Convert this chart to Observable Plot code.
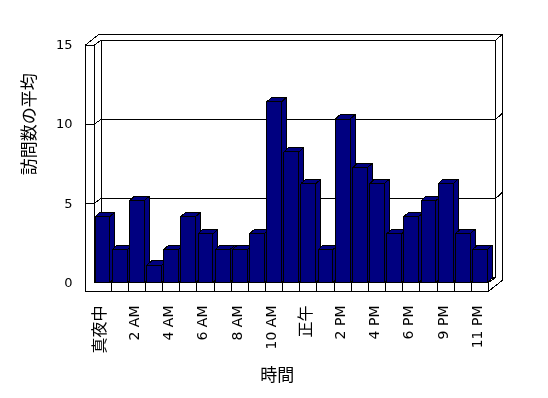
<!DOCTYPE html>
<html>
<head>
<meta charset="utf-8">
<script src="https://cdn.jsdelivr.net/npm/d3@7"></script>
<script src="https://cdn.jsdelivr.net/npm/@observablehq/plot@0.6"></script>
<style>
  body { margin: 0; background: #ffffff; }
  #chart svg { display: block; will-change: transform; }
  #chart svg path, #chart svg line, #chart svg rect { shape-rendering: crispEdges; }
</style>
</head>
<body>
<div id="chart"></div>
<script>
// ---- data ----
const hours = ["真夜中", "1 AM", "2 AM", "3 AM", "4 AM", "5 AM", "6 AM", "7 AM", "8 AM", "9 AM",
  "10 AM", "11 AM", "正午", "1 PM", "2 PM", "3 PM", "4 PM", "5 PM", "6 PM", "8 PM",
  "9 PM", "10 PM", "11 PM"];
const visits = [4.17, 2.08, 5.17, 1.08, 2.08, 4.17, 3.08, 2.08, 2.08, 3.08,
  11.42, 8.25, 6.25, 2.08, 10.33, 7.25, 6.25, 3.08, 4.17, 5.17,
  6.25, 3.08, 2.08];
const yTicks = [0, 5, 10, 15];
const gridValues = [5, 10];
const xTitle = "時間";
const yTitle = "訪問数の平均";

// ---- layout ----
const W = 548, H = 398;
const mL = 93.5, mR = 60, mT = 44.7, mB = 116;
const yMax = 15;
const n = hours.length;
const sx = (W - mL - mR) / n, sy = (H - mT - mB) / yMax;
const ux = p => p / sx, uy = p => p / sy;     // pixel -> scale units
const tL = ux(8.8), tF = uy(8.8);             // wall / floor thickness
const wx = ux(7.2), wy = uy(5);               // back wall inner face depth
const ox = ux(13.5), oy = uy(10.7);           // back wall outer face depth
const bx = ux(5), by = uy(4.5);               // bar depth
const pad = ux(1.17);

const poly = (id, pts) => pts.concat([pts[0]]).map(([x, y]) => ({id, x, y}));

const walls = [
  ...poly("top", [[-tL, yMax], [0, yMax], [wx, yMax + wy], [n + wx, yMax + wy], [n + ox, yMax + oy], [-tL + ox, yMax + oy]]),
  ...poly("right", [[n, -tF], [n + ox, -tF + oy], [n + ox, yMax + oy], [n + wx, yMax + wy], [n + wx, wy], [n, 0]]),
  ...poly("back", [[wx, wy], [wx, yMax + wy], [n + wx, yMax + wy], [n + wx, wy]]),
  ...poly("leftInner", [[0, 0], [0, yMax], [wx, yMax + wy], [wx, wy]]),
  ...poly("floor", [[0, 0], [wx, wy], [n + wx, wy], [n, 0]]),
  ...poly("front", [[-tL, -tF], [-tL, yMax], [0, yMax], [0, 0], [n, 0], [n, -tF]])
];

const grid = gridValues.flatMap(v =>
  [[-tL, v], [0, v], [wx, v + wy], [n + wx, v + wy], [n + ox, v + oy]].map(([x, y]) => ({id: v, x, y})));

const bars = visits.flatMap((v, i) => {
  const x1 = i + pad, x2 = i + 1 - pad;
  return [
    ...poly(i + "s", [[x2, 0], [x2, v], [x2 + bx, v + by], [x2 + bx, by]]),
    ...poly(i + "t", [[x1, v], [x2, v], [x2 + bx, v + by], [x1 + bx, v + by]]),
    ...poly(i + "f", [[x1, 0], [x1, v], [x2, v], [x2, 0]])
  ];
});

const xLabels = hours.map((h, i) => ({i, label: h})).filter(d => d.i % 2 === 0);
const isCJK = s => /[^\x00-\x7F]/.test(s);

const chart = Plot.plot({
  width: W, height: H,
  marginLeft: mL, marginRight: mR, marginTop: mT, marginBottom: mB,
  style: {fontFamily: "'DejaVu Sans', 'Noto Sans CJK JP', sans-serif", fontSize: "13px", color: "black", background: "white"},
  x: {type: "linear", domain: [0, n], axis: null},
  y: {type: "linear", domain: [0, yMax], axis: null},
  marks: [
    Plot.line(walls, {x: "x", y: "y", z: "id", fill: "white", stroke: "black", strokeWidth: 1}),
    Plot.line(grid, {x: "x", y: "y", z: "id", stroke: "black", strokeWidth: 1}),
    Plot.ruleX(d3.range(1, n), {y1: -tF, y2: 0, stroke: "black", strokeWidth: 1}),
    Plot.line(bars, {x: "x", y: "y", z: "id", fill: "#000080", stroke: "black", strokeWidth: 1}),
    Plot.text(yTicks, {y: d => d, text: d => String(d), frameAnchor: "left", dx: -21.5, textAnchor: "end", fontSize: 13, fill: "black"}),
    Plot.text(xLabels, {x: d => d.i + 0.5, text: "label", frameAnchor: "bottom", dy: 23, dx: -2.5,
      rotate: -90, textAnchor: "end", lineAnchor: "middle", fontSize: d => isCJK(d.label) ? 16 : 14, fill: "black"}),
    Plot.text([xTitle], {frameAnchor: "bottom-left", dx: 259.7 - mL, dy: 374.7 - (H - mB), fontSize: 17, lineAnchor: "middle", fill: "black"}),
    Plot.text([yTitle], {frameAnchor: "left", dx: 29.5 - mL, dy: 174.7 - (mT + (H - mT - mB) / 2), rotate: -90, fontSize: 17, lineAnchor: "middle", fill: "black"})
  ]
});
document.getElementById("chart").appendChild(chart);
</script>
</body>
</html>
